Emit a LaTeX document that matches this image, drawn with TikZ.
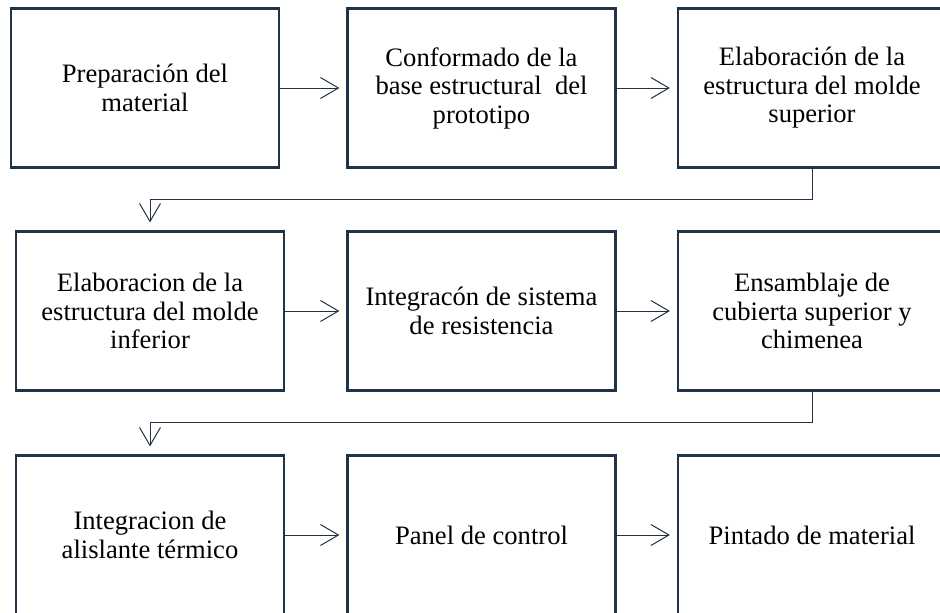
\documentclass[tikz,border=0pt]{standalone}
\usepackage{fontspec}
\setmainfont{Liberation Serif}
\usetikzlibrary{arrows.meta}

\definecolor{azul}{RGB}{31,50,72}

\begin{document}
\begin{tikzpicture}[x=1pt, y=-1pt,
    paso/.style={draw=azul, line width=2.2pt, minimum width=268pt, minimum height=159pt,
        inner sep=0pt, align=center, font=\fontsize{26.6}{28.5}\selectfont},
    flecha/.style={draw=azul, line width=1pt, -{Straight Barb[length=18pt,width=21pt]}}]

    \useasboundingbox (0,0) rectangle (940,613);

    % Columns and rows
    \def\ca{481.5}
    \def\cb{812}

    % First row
    \node[paso] (prep) at (145,88) {Preparación del\\material};
    \node[paso] (base) at (\ca,88) {Conformado de la\\base estructural\ \ del\\prototipo};
    \node[paso] (molsup) at (\cb,88) {Elaboración de la\\estructura del molde\\superior};

    % Second row
    \node[paso] (molinf) at (150,311) {Elaboracion de la\\estructura del molde\\inferior};
    \node[paso] (resist) at (\ca,311) {Integracón de sistema\\de resistencia};
    \node[paso] (cubierta) at (\cb,311) {Ensamblaje de\\cubierta superior y\\chimenea};

    % Third row (cut by the page)
    \begin{scope}[every node/.append style={minimum height=161pt}]
    \node[paso] (aislante) at (150,535) {Integracion de\\alislante térmico};
    \node[paso] (panel) at (\ca,535) {Panel de control};
    \node[paso] (pintado) at (\cb,535) {Pintado de material};
    \end{scope}

    % Arrows
    \draw[flecha, shorten >=7pt] (prep) -- (base);
    \draw[flecha, shorten >=7pt] (base) -- (molsup);
    \draw[flecha, shorten >=8pt] (molsup.south) -- ++(0,31) -| (molinf.north);

    \draw[flecha, shorten >=7pt] (molinf) -- (resist);
    \draw[flecha, shorten >=7pt] (resist) -- (cubierta);
    \draw[flecha, shorten >=8pt] (cubierta.south) -- ++(0,31) -| (aislante.north);

    \draw[flecha, shorten >=7pt] (aislante) -- (panel);
    \draw[flecha, shorten >=7pt] (panel) -- (pintado);

\end{tikzpicture}
\end{document}
